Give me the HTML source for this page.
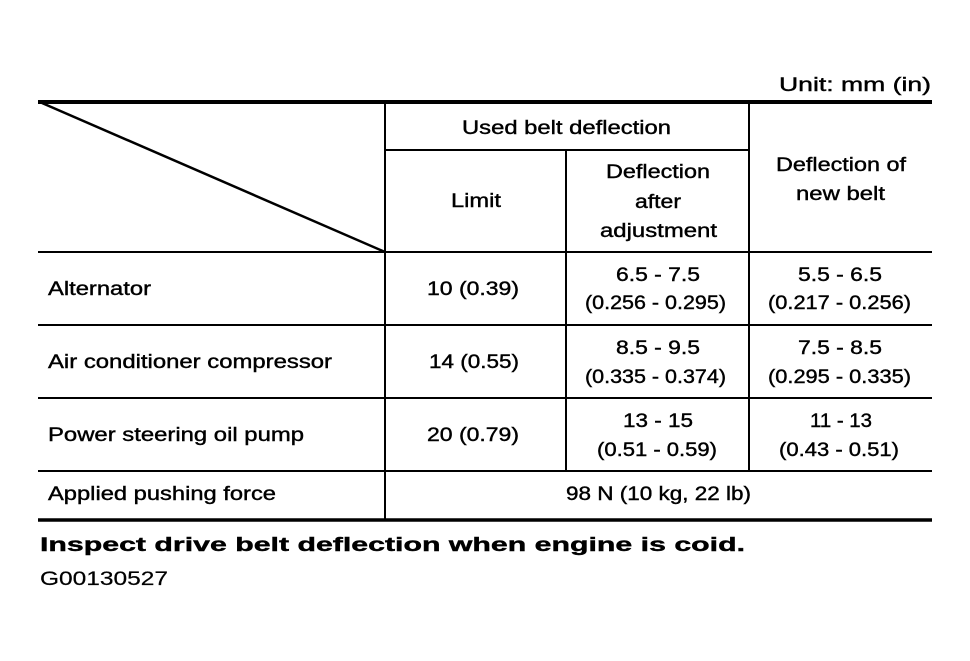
<!DOCTYPE html>
<html><head><meta charset="utf-8"><style>
html,body{margin:0;padding:0;background:#fff}
svg{display:block}
text{font-family:"Liberation Sans",sans-serif;font-size:19px;fill:#000;stroke:#000;stroke-width:0.4}
</style></head><body>
<svg width="970" height="661" viewBox="0 0 970 661">
<g stroke="#000" fill="none">
<line x1="38" y1="102" x2="932" y2="102" stroke-width="4"/>
<line x1="42" y1="103" x2="385" y2="252" stroke-width="2.5"/>
<line x1="385" y1="150" x2="749" y2="150" stroke-width="2"/>
<line x1="38" y1="252" x2="932" y2="252" stroke-width="2"/>
<line x1="38" y1="325" x2="932" y2="325" stroke-width="2"/>
<line x1="38" y1="398" x2="932" y2="398" stroke-width="2"/>
<line x1="38" y1="471" x2="932" y2="471" stroke-width="2"/>
<line x1="38" y1="520" x2="932" y2="520" stroke-width="3.5"/>
<line x1="385" y1="102" x2="385" y2="520" stroke-width="2"/>
<line x1="566" y1="150" x2="566" y2="471" stroke-width="2"/>
<line x1="749" y1="102" x2="749" y2="471" stroke-width="2"/>
</g>
<g>
<text x="779" y="91" textLength="152" lengthAdjust="spacingAndGlyphs">Unit: mm (in)</text>
<text x="462" y="134" textLength="209" lengthAdjust="spacingAndGlyphs">Used belt deflection</text>
<text x="451" y="207" textLength="50" lengthAdjust="spacingAndGlyphs">Limit</text>
<text x="606" y="178" textLength="104" lengthAdjust="spacingAndGlyphs">Deflection</text>
<text x="635" y="208" textLength="46" lengthAdjust="spacingAndGlyphs">after</text>
<text x="600" y="237" textLength="117" lengthAdjust="spacingAndGlyphs">adjustment</text>
<text x="776" y="171" textLength="130" lengthAdjust="spacingAndGlyphs">Deflection of</text>
<text x="796" y="200" textLength="89" lengthAdjust="spacingAndGlyphs">new belt</text>
<text x="427" y="295" textLength="92" lengthAdjust="spacingAndGlyphs">10 (0.39)</text>
<text x="616" y="281" textLength="84" lengthAdjust="spacingAndGlyphs">6.5 - 7.5</text>
<text x="585" y="309" textLength="141" lengthAdjust="spacingAndGlyphs">(0.256 - 0.295)</text>
<text x="798" y="281" textLength="84" lengthAdjust="spacingAndGlyphs">5.5 - 6.5</text>
<text x="768" y="309" textLength="143" lengthAdjust="spacingAndGlyphs">(0.217 - 0.256)</text>
<text x="429" y="368" textLength="90" lengthAdjust="spacingAndGlyphs">14 (0.55)</text>
<text x="616" y="354" textLength="84" lengthAdjust="spacingAndGlyphs">8.5 - 9.5</text>
<text x="585" y="383" textLength="141" lengthAdjust="spacingAndGlyphs">(0.335 - 0.374)</text>
<text x="798" y="354" textLength="84" lengthAdjust="spacingAndGlyphs">7.5 - 8.5</text>
<text x="768" y="383" textLength="143" lengthAdjust="spacingAndGlyphs">(0.295 - 0.335)</text>
<text x="427" y="441" textLength="92" lengthAdjust="spacingAndGlyphs">20 (0.79)</text>
<text x="623" y="427" textLength="70" lengthAdjust="spacingAndGlyphs">13 - 15</text>
<text x="597" y="456" textLength="120" lengthAdjust="spacingAndGlyphs">(0.51 - 0.59)</text>
<text x="810" y="427" textLength="62" lengthAdjust="spacingAndGlyphs">11 - 13</text>
<text x="779" y="456" textLength="120" lengthAdjust="spacingAndGlyphs">(0.43 - 0.51)</text>
<text x="566" y="500" textLength="185" lengthAdjust="spacingAndGlyphs">98 N (10 kg, 22 lb)</text>
<text x="48" y="295" textLength="103" lengthAdjust="spacingAndGlyphs">Alternator</text>
<text x="48" y="368" textLength="284" lengthAdjust="spacingAndGlyphs">Air conditioner compressor</text>
<text x="48" y="441" textLength="256" lengthAdjust="spacingAndGlyphs">Power steering oil pump</text>
<text x="48" y="500" textLength="228" lengthAdjust="spacingAndGlyphs">Applied pushing force</text>
<text x="40" y="551" font-size="24" font-weight="bold" textLength="705" lengthAdjust="spacingAndGlyphs">Inspect drive belt deflection when engine is coid.</text>
<text x="40" y="585" font-size="23" style="stroke-width:0.2" textLength="128" lengthAdjust="spacingAndGlyphs">G00130527</text>
</g>
</svg>
</body></html>
